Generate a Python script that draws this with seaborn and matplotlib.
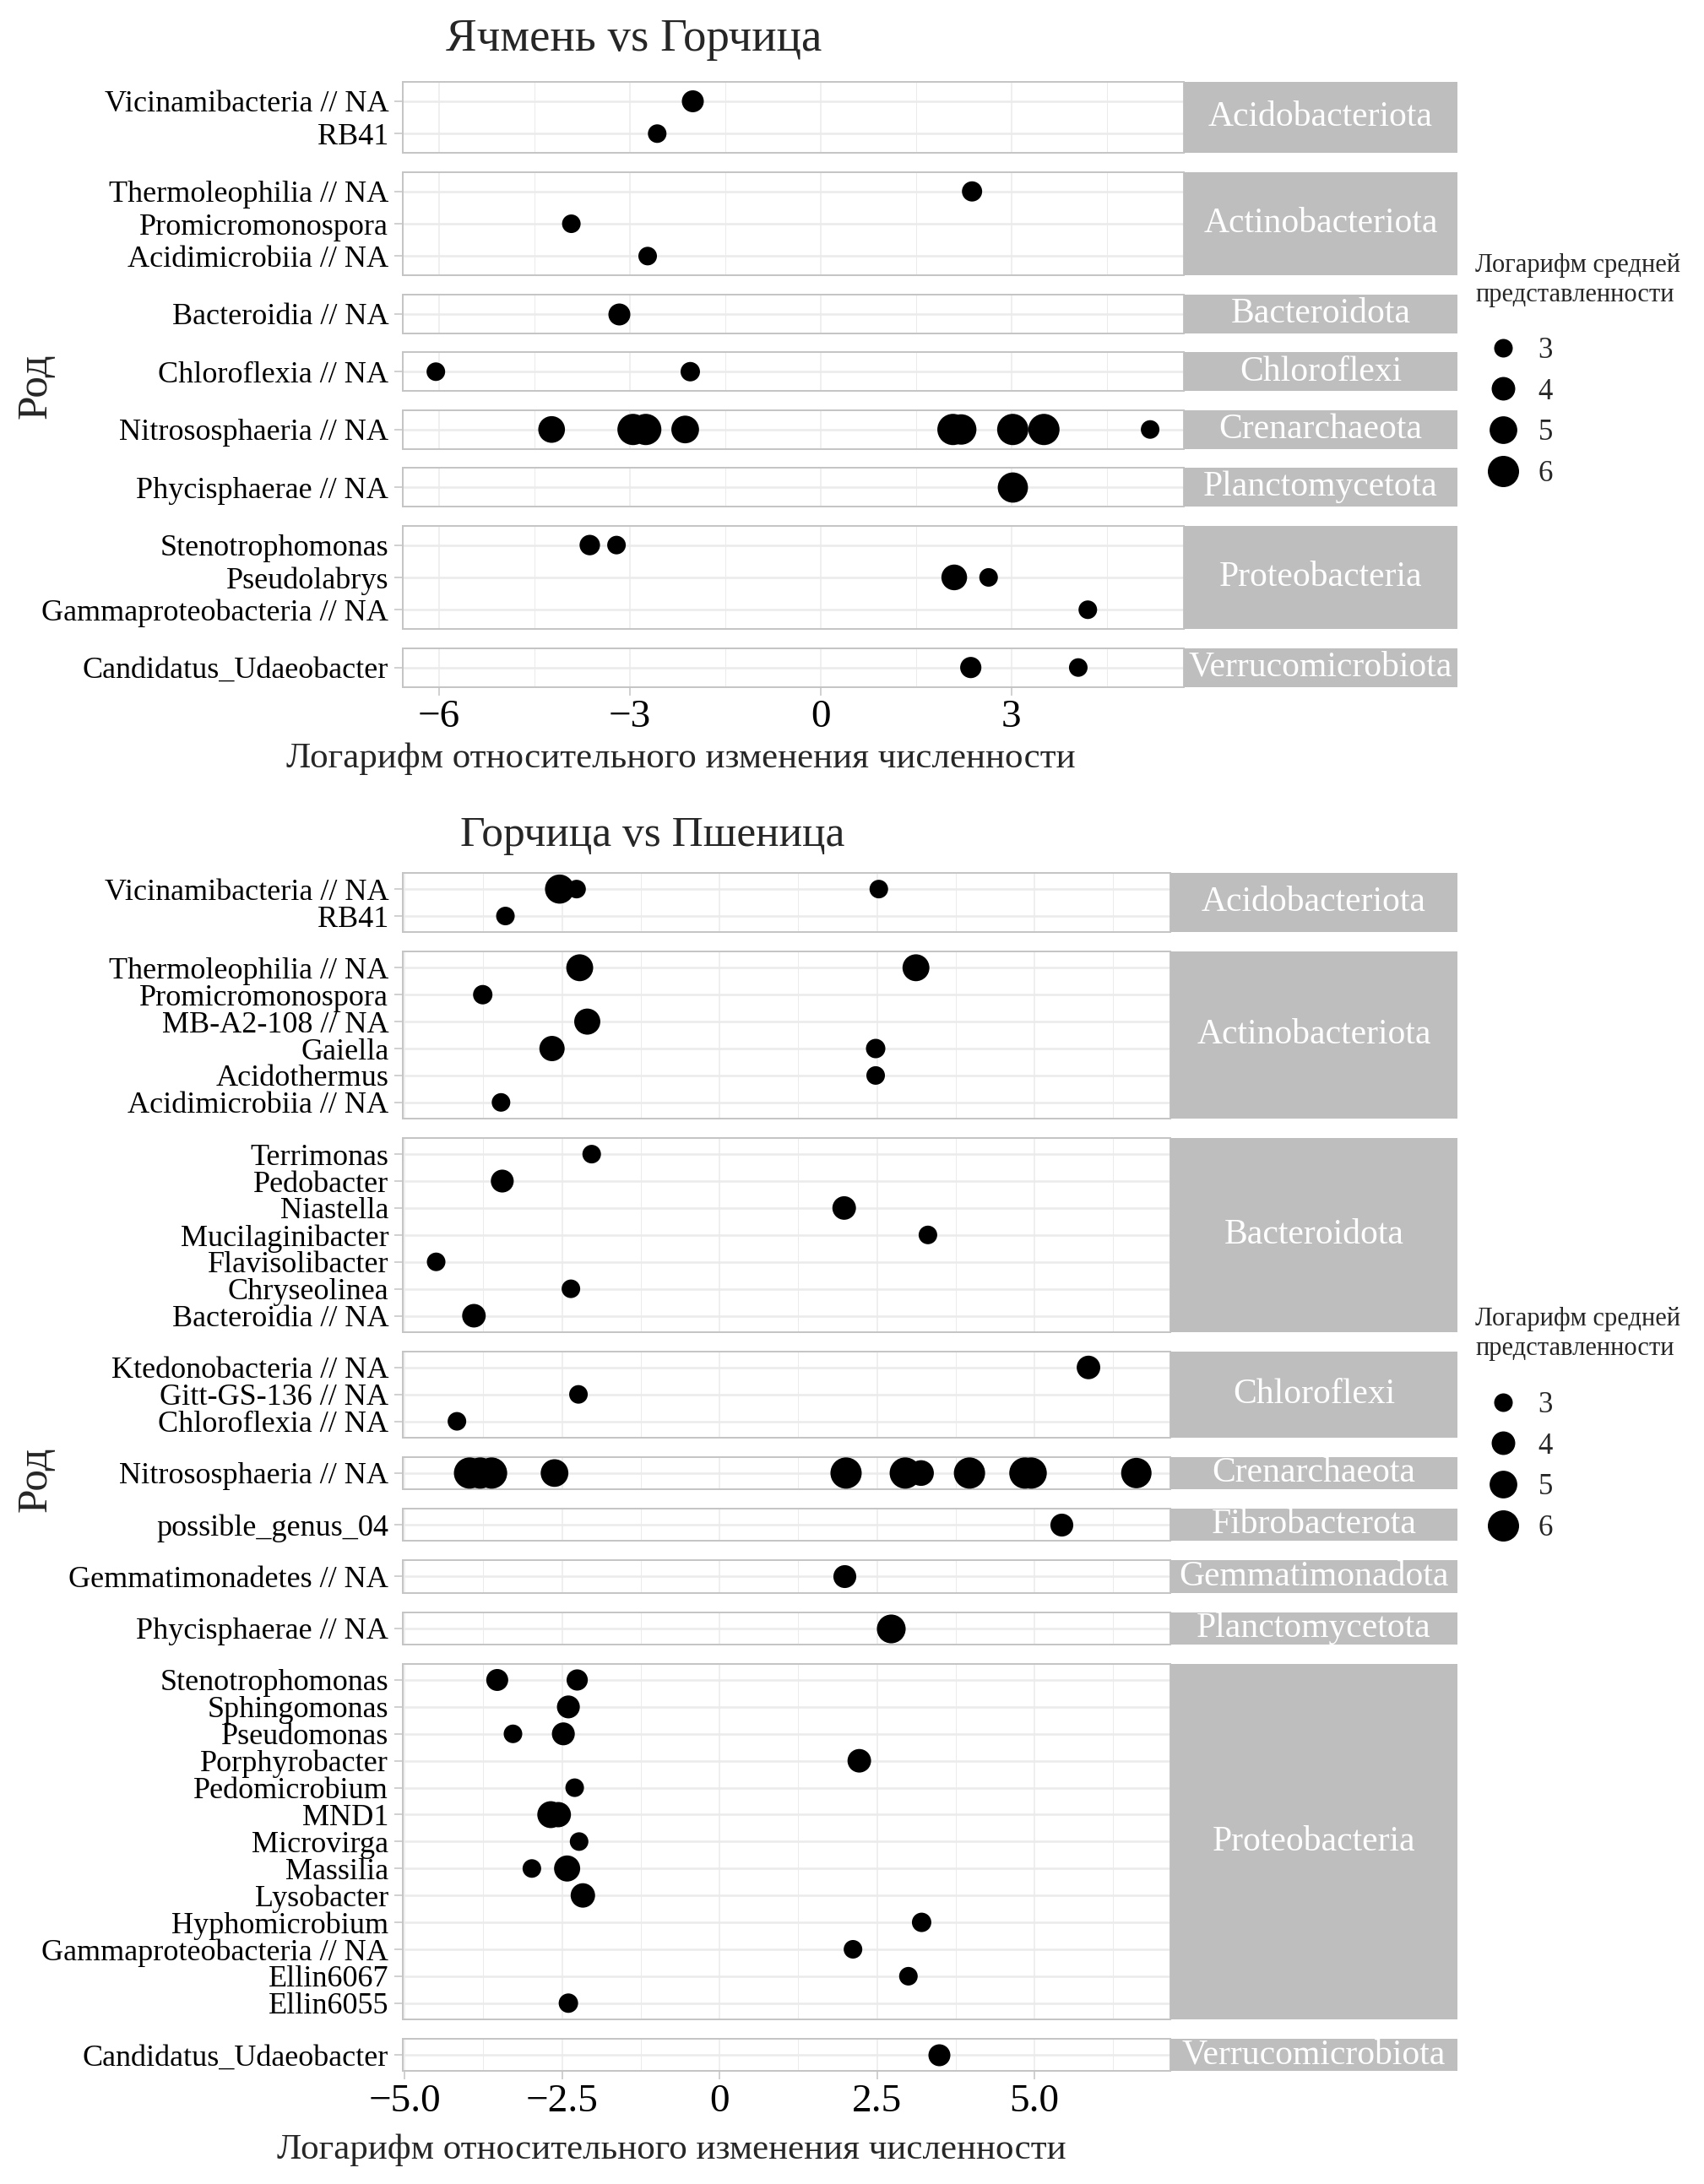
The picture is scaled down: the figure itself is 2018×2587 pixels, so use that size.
import numpy as np
import pandas as pd
import matplotlib
matplotlib.use("Agg")
import matplotlib.pyplot as plt
import seaborn as sns
from matplotlib.lines import Line2D

# ---------------- data: top chart (Ячмень vs Горчица) ----------------
top_phyla = ["Acidobacteriota", "Actinobacteriota", "Bacteroidota", "Chloroflexi",
             "Crenarchaeota", "Planctomycetota", "Proteobacteria", "Verrucomicrobiota"]
top_genus_order = {  # top -> bottom inside each facet
    "Acidobacteriota": ["Vicinamibacteria // NA", "RB41"],
    "Actinobacteriota": ["Thermoleophilia // NA", "Promicromonospora", "Acidimicrobiia // NA"],
    "Bacteroidota": ["Bacteroidia // NA"],
    "Chloroflexi": ["Chloroflexia // NA"],
    "Crenarchaeota": ["Nitrososphaeria // NA"],
    "Planctomycetota": ["Phycisphaerae // NA"],
    "Proteobacteria": ["Stenotrophomonas", "Pseudolabrys", "Gammaproteobacteria // NA"],
    "Verrucomicrobiota": ["Candidatus_Udaeobacter"],
}
top_phylum = ["Acidobacteriota", "Acidobacteriota",
              "Actinobacteriota", "Actinobacteriota", "Actinobacteriota",
              "Bacteroidota",
              "Chloroflexi", "Chloroflexi",
              "Crenarchaeota", "Crenarchaeota", "Crenarchaeota", "Crenarchaeota", "Crenarchaeota",
              "Crenarchaeota", "Crenarchaeota", "Crenarchaeota", "Crenarchaeota",
              "Planctomycetota",
              "Proteobacteria", "Proteobacteria", "Proteobacteria", "Proteobacteria", "Proteobacteria",
              "Verrucomicrobiota", "Verrucomicrobiota"]
top_genus = ["Vicinamibacteria // NA", "RB41",
             "Thermoleophilia // NA", "Promicromonospora", "Acidimicrobiia // NA",
             "Bacteroidia // NA",
             "Chloroflexia // NA", "Chloroflexia // NA",
             "Nitrososphaeria // NA", "Nitrososphaeria // NA", "Nitrososphaeria // NA",
             "Nitrososphaeria // NA", "Nitrososphaeria // NA", "Nitrososphaeria // NA",
             "Nitrososphaeria // NA", "Nitrososphaeria // NA", "Nitrososphaeria // NA",
             "Phycisphaerae // NA",
             "Stenotrophomonas", "Stenotrophomonas", "Pseudolabrys", "Pseudolabrys",
             "Gammaproteobacteria // NA",
             "Candidatus_Udaeobacter", "Candidatus_Udaeobacter"]
top_lfc = [-2.01, -2.57,
           2.38, -3.92, -2.72,
           -3.17,
           -6.05, -2.05,
           -4.23, -2.95, -2.75, -2.13, 2.08, 2.21, 3.02, 3.51, 5.18,
           3.02,
           -3.63, -3.21, 2.10, 2.64, 4.20,
           2.36, 4.05]
top_abund = [3.65, 2.6,
             3.3, 2.85, 2.6,
             3.65,
             2.0, 3.15,
             4.75, 6.8, 6.8, 5.0, 6.8, 5.75, 6.2, 7.1, 2.8,
             5.7,
             3.35, 2.85, 4.5, 2.85, 2.7,
             3.5, 2.45]

# ---------------- data: bottom chart (Горчица vs Пшеница) ----------------
bot_phyla = ["Acidobacteriota", "Actinobacteriota", "Bacteroidota", "Chloroflexi", "Crenarchaeota",
             "Fibrobacterota", "Gemmatimonadota", "Planctomycetota", "Proteobacteria", "Verrucomicrobiota"]
bot_genus_order = {
    "Acidobacteriota": ["Vicinamibacteria // NA", "RB41"],
    "Actinobacteriota": ["Thermoleophilia // NA", "Promicromonospora", "MB-A2-108 // NA",
                         "Gaiella", "Acidothermus", "Acidimicrobiia // NA"],
    "Bacteroidota": ["Terrimonas", "Pedobacter", "Niastella", "Mucilaginibacter",
                     "Flavisolibacter", "Chryseolinea", "Bacteroidia // NA"],
    "Chloroflexi": ["Ktedonobacteria // NA", "Gitt-GS-136 // NA", "Chloroflexia // NA"],
    "Crenarchaeota": ["Nitrososphaeria // NA"],
    "Fibrobacterota": ["possible_genus_04"],
    "Gemmatimonadota": ["Gemmatimonadetes // NA"],
    "Planctomycetota": ["Phycisphaerae // NA"],
    "Proteobacteria": ["Stenotrophomonas", "Sphingomonas", "Pseudomonas", "Porphyrobacter",
                       "Pedomicrobium", "MND1", "Microvirga", "Massilia", "Lysobacter",
                       "Hyphomicrobium", "Gammaproteobacteria // NA", "Ellin6067", "Ellin6055"],
    "Verrucomicrobiota": ["Candidatus_Udaeobacter"],
}
bot_phylum = (["Acidobacteriota"] * 4 + ["Actinobacteriota"] * 8 + ["Bacteroidota"] * 7 +
              ["Chloroflexi"] * 3 + ["Crenarchaeota"] * 11 + ["Fibrobacterota"] +
              ["Gemmatimonadota"] + ["Planctomycetota"] + ["Proteobacteria"] * 17 +
              ["Verrucomicrobiota"])
bot_genus = ["Vicinamibacteria // NA", "Vicinamibacteria // NA", "Vicinamibacteria // NA", "RB41",
             "Thermoleophilia // NA", "Thermoleophilia // NA", "Promicromonospora", "MB-A2-108 // NA",
             "Gaiella", "Gaiella", "Acidothermus", "Acidimicrobiia // NA",
             "Terrimonas", "Pedobacter", "Niastella", "Mucilaginibacter", "Flavisolibacter",
             "Chryseolinea", "Bacteroidia // NA",
             "Ktedonobacteria // NA", "Gitt-GS-136 // NA", "Chloroflexia // NA",
             "Nitrososphaeria // NA", "Nitrososphaeria // NA", "Nitrososphaeria // NA",
             "Nitrososphaeria // NA", "Nitrososphaeria // NA", "Nitrososphaeria // NA",
             "Nitrososphaeria // NA", "Nitrososphaeria // NA", "Nitrososphaeria // NA",
             "Nitrososphaeria // NA", "Nitrososphaeria // NA",
             "possible_genus_04",
             "Gemmatimonadetes // NA",
             "Phycisphaerae // NA",
             "Stenotrophomonas", "Stenotrophomonas", "Sphingomonas", "Pseudomonas", "Pseudomonas",
             "Porphyrobacter", "Pedomicrobium", "MND1", "MND1", "Microvirga", "Massilia", "Massilia",
             "Lysobacter", "Hyphomicrobium", "Gammaproteobacteria // NA", "Ellin6067", "Ellin6055",
             "Candidatus_Udaeobacter"]
bot_lfc = [-2.54, -2.27, 2.53, -3.40,
           -2.22, 3.12, -3.76, -2.10, -2.66, 2.48, 2.48, -3.47,
           -2.03, -3.45, 1.98, 3.31, -4.50, -2.36, -3.90,
           5.86, -2.24, -4.17,
           -3.97, -3.80, -3.62, -2.62, 2.01, 2.95, 3.20, 3.97, 4.85, 4.95, 6.62,
           5.43,
           1.98,
           2.72,
           -3.53, -2.26, -2.40, -3.28, -2.48, 2.22, -2.30, -2.68, -2.56, -2.23, -2.98, -2.42,
           -2.17, 3.21, 2.12, 3.00, -2.40,
           3.48]
bot_abund = [5.4, 2.45, 3.0, 2.95,
             4.8, 4.8, 3.15, 4.6, 4.4, 3.15, 2.35, 2.35,
             2.45, 3.85, 4.0, 2.45, 1.85, 2.6, 4.0,
             4.0, 2.45, 3.0,
             6.2, 6.0, 6.2, 5.0, 6.2, 6.5, 4.5, 7.0, 6.5, 6.5, 5.75,
             3.85,
             3.85,
             5.3,
             3.65, 3.5, 3.85, 2.45, 3.85, 4.0, 2.95, 4.8, 4.4, 2.1, 2.15, 4.6,
             4.2, 3.15, 3.0, 2.7, 3.15,
             3.65]

legend_levels = [3, 4, 5, 6]
top_xticks = [-6, -3, 0, 3]
top_xticklabels = ["\u22126", "\u22123", "0", "3"]
top_xminor = [-4.5, -1.5, 1.5, 4.5]
bot_xticks = [-5.0, -2.5, 0, 2.5, 5.0]
bot_xticklabels = ["\u22125.0", "\u22122.5", "0", "2.5", "5.0"]
bot_xminor = [-3.75, -1.25, 1.25, 3.75, 6.25]

top_df = pd.DataFrame({"phylum": top_phylum, "genus": top_genus, "lfc": top_lfc, "abund": top_abund})
bot_df = pd.DataFrame({"phylum": bot_phylum, "genus": bot_genus, "lfc": bot_lfc, "abund": bot_abund})

# ---------------- styling ----------------
sns.set_theme(style="white")
plt.rcParams["font.family"] = ["Liberation Serif", "DejaVu Serif"]
plt.rcParams["axes.unicode_minus"] = True

W, H = 2018, 2587
fig = plt.figure(figsize=(W / 100, H / 100), dpi=100)

SIZES = (251, 710)
NORM = (3, 6)
GRID = "#EBEBEB"
BORDER = "#C4C4C4"
STRIP = "#BEBEBE"


def fx(px):
    return px / W


def fy(py):
    return 1 - py / H


def draw_group(df, phyla, genus_order, top_px, unit, gap, left_px, right_px, strip_right_px,
               xlim, xticks, xticklabels, xminor):
    y = top_px
    for i, ph in enumerate(phyla):
        order = genus_order[ph]
        n = len(order)
        h = (n + 0.2) * unit
        ax = fig.add_axes([fx(left_px), fy(y + h), fx(right_px - left_px), h / H])
        cats = order[::-1]  # bottom -> top
        ax.yaxis.update_units(np.array(cats))
        sub = df[df["phylum"] == ph].copy()
        sub["genus"] = pd.Categorical(sub["genus"], categories=cats)
        sns.scatterplot(data=sub, x="lfc", y="genus", size="abund", sizes=SIZES,
                        size_norm=NORM, color="black", linewidth=0, legend=False,
                        ax=ax, zorder=3)
        ax.set_xlim(*xlim)
        ax.set_ylim(-0.6, n - 0.4)
        ax.set_xticks(xticks)
        ax.set_xticks(xminor, minor=True)
        ax.set_axisbelow(True)
        ax.grid(which="major", axis="x", color=GRID, lw=1.1)
        ax.grid(which="minor", axis="x", color=GRID, lw=0.7)
        ax.grid(which="major", axis="y", color=GRID, lw=1.8)
        for s in ax.spines.values():
            s.set_color(BORDER)
            s.set_linewidth(1.4)
        ax.set_xlabel("")
        ax.set_ylabel("")
        ax.tick_params(axis="y", which="major", left=True, length=7, width=1.1, color=BORDER,
                       labelsize=26, pad=5, labelcolor="black")
        ax.tick_params(axis="x", which="minor", bottom=False)
        if i == len(phyla) - 1:
            ax.set_xticklabels(xticklabels)
            ax.tick_params(axis="x", which="major", bottom=True, length=7, width=1.1,
                           color=BORDER, labelsize=34, pad=4, labelcolor="black")
        else:
            ax.tick_params(axis="x", which="major", bottom=False, labelbottom=False)
        sax = fig.add_axes([fx(right_px), fy(y + h), fx(strip_right_px - right_px), h / H])
        sax.set_facecolor(STRIP)
        sax.set_xticks([])
        sax.set_yticks([])
        for s in sax.spines.values():
            s.set_visible(False)
        sax.text(0.5, 0.5, ph, color="white", fontsize=30, ha="center", va="center",
                 transform=sax.transAxes)
        y += h + gap


draw_group(top_df, top_phyla, top_genus_order, 97, 38.3, 22.5, 477, 1402, 1726,
           (-6.57, 5.71), top_xticks, top_xticklabels, top_xminor)
draw_group(bot_df, bot_phyla, bot_genus_order, 1034, 31.9, 23.0, 477, 1386, 1726,
           (-5.03, 7.16), bot_xticks, bot_xticklabels, bot_xminor)

# titles and axis titles
fig.text(fx(528), fy(47), "Ячмень vs Горчица", fontsize=39.5, ha="left", va="center")
fig.text(fx(545), fy(990), "Горчица vs Пшеница", fontsize=37, ha="left", va="center")
xt = "Логарифм относительного изменения численности"
fig.text(fx(806), fy(899), xt, fontsize=31, ha="center", va="center")
fig.text(fx(795), fy(2547), xt, fontsize=31, ha="center", va="center")
fig.text(fx(42), fy(457), "Род", fontsize=37, rotation=90, ha="center", va="center")
fig.text(fx(42), fy(1752), "Род", fontsize=37, rotation=90, ha="center", va="center")

# size legends
def size_of(v):
    return SIZES[0] + (v - NORM[0]) / (NORM[1] - NORM[0]) * (SIZES[1] - SIZES[0])


handles = [Line2D([], [], marker="o", ls="", color="black", markeredgewidth=0,
                  markersize=np.sqrt(size_of(v))) for v in legend_levels]
labels = [str(v) for v in legend_levels]
ltitle = "Логарифм средней\nпредставленности"
for title_y, entries_y in ((332, 399), (1580, 1648)):
    fig.text(fx(1747), fy(title_y), ltitle, fontsize=22, ha="left", va="center",
             linespacing=1.3)
    fig.legend(handles, labels, loc="upper left",
               bbox_to_anchor=(fx(1747), fy(entries_y)), frameon=False, fontsize=25,
               labelspacing=0.45, handlelength=1.9, handletextpad=0.25,
               borderpad=0, borderaxespad=0)

fig.savefig("out.png", dpi=100)
